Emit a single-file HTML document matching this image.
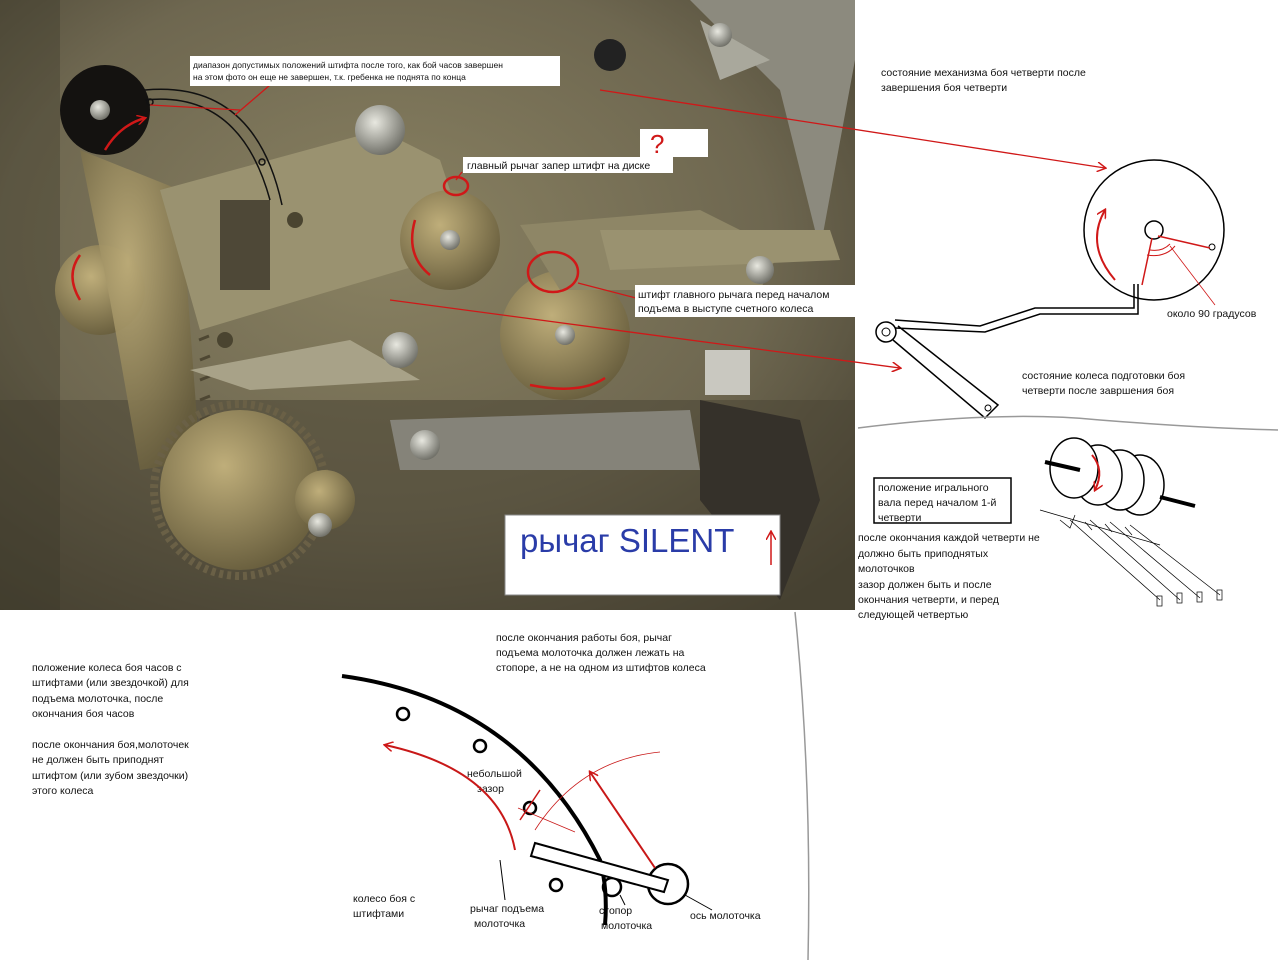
<!DOCTYPE html>
<html><head><meta charset="utf-8"><style>
html,body{margin:0;padding:0;background:#fff;width:1280px;height:960px;overflow:hidden}
svg{display:block}
text{font-family:"Liberation Sans","DejaVu Sans",sans-serif;fill:#111}
</style></head><body>
<svg width="1280" height="960" viewBox="0 0 1280 960" xmlns="http://www.w3.org/2000/svg">
<defs>
<radialGradient id="bg" cx="45%" cy="40%" r="75%">
<stop offset="0" stop-color="#8a8262"/><stop offset="0.6" stop-color="#6e6750"/><stop offset="1" stop-color="#423d2e"/></radialGradient>
<radialGradient id="brass" cx="40%" cy="35%" r="70%">
<stop offset="0" stop-color="#bfae7a"/><stop offset="1" stop-color="#665c3c"/></radialGradient>
<radialGradient id="steel" cx="40%" cy="35%" r="70%">
<stop offset="0" stop-color="#e8e8e0"/><stop offset="1" stop-color="#6a6a62"/></radialGradient>
<marker id="ar" markerWidth="10" markerHeight="10" refX="8" refY="5" orient="auto" markerUnits="userSpaceOnUse"><path d="M0,0 L9,5 L0,10" fill="none" stroke="#d01818" stroke-width="1.5"/></marker>
</defs>
<!-- photo -->
<rect x="0" y="0" width="855" height="610" fill="url(#bg)"/>
<rect x="0" y="400" width="855" height="210" fill="#4a4535" opacity="0.55"/>
<rect x="0" y="0" width="60" height="610" fill="#3a3628" opacity="0.35"/>
<polygon points="690,0 855,0 855,60 820,250 780,90" fill="#8c8a7e"/>
<polygon points="700,20 770,60 720,80" fill="#a9a89c"/>
<circle cx="105" cy="110" r="45" fill="#141210"/>
<circle cx="100" cy="290" r="45" fill="url(#brass)"/>
<path d="M80,150 L180,190 L200,460 L140,470 L110,300Z" fill="url(#brass)" opacity="0.9"/>
<g stroke="#4e4733" stroke-width="3">
<path d="M185,200 l10,-4 M188,220 l10,-4 M190,240 l10,-4 M192,260 l10,-4 M194,280 l10,-4 M196,300 l10,-4 M198,320 l10,-4 M199,340 l10,-4 M200,360 l10,-4 M200,380 l10,-4 M200,400 l10,-4 M200,420 l10,-4 M200,440 l10,-4"/>
</g>
<path d="M160,190 L380,130 L440,160 L470,250 L300,300 L200,330Z" fill="#9a9270"/>
<rect x="220" y="200" width="50" height="90" fill="#2e2a1f" opacity="0.7"/>
<circle cx="450" cy="240" r="50" fill="url(#brass)"/>
<circle cx="565" cy="335" r="65" fill="url(#brass)"/>
<path d="M520,225 L700,210 L780,250 L760,290 L560,290Z" fill="#8e8666"/>
<path d="M600,230 L830,230 L840,260 L610,270Z" fill="#9a9270"/>
<circle cx="760" cy="270" r="14" fill="url(#steel)"/>
<circle cx="240" cy="490" r="80" fill="url(#brass)"/>
<circle cx="240" cy="490" r="86" fill="none" stroke="#6a6046" stroke-width="8" stroke-dasharray="4 4"/>
<circle cx="325" cy="500" r="30" fill="url(#brass)"/>
<path d="M390,420 L690,410 L700,470 L400,470Z" fill="#858379"/>
<rect x="705" y="350" width="45" height="45" fill="#c9c8c0"/>
<path d="M700,400 L800,420 L820,500 L780,600 L700,500Z" fill="#35312a"/>
<path d="M190,370 L350,340 L420,380 L250,390Z" fill="#a8a288"/>
<circle cx="380" cy="130" r="25" fill="url(#steel)"/>
<circle cx="400" cy="350" r="18" fill="url(#steel)"/>
<circle cx="425" cy="445" r="15" fill="url(#steel)"/>
<circle cx="100" cy="110" r="10" fill="url(#steel)"/>
<circle cx="610" cy="55" r="16" fill="#222"/>
<circle cx="720" cy="35" r="12" fill="url(#steel)"/>
<circle cx="450" cy="240" r="10" fill="url(#steel)"/>
<circle cx="565" cy="335" r="10" fill="url(#steel)"/>
<circle cx="295" cy="220" r="8" fill="#4a4430"/>
<circle cx="225" cy="340" r="8" fill="#4a4430"/>
<circle cx="320" cy="525" r="12" fill="url(#steel)"/>
<!-- red annotations on photo -->
<g fill="none" stroke="#d01818" stroke-width="2.5">
<path d="M105,150 Q120,125 145,118" marker-end="url(#ar)"/>
<path d="M80,300 Q65,275 80,255"/>
<path d="M415,220 Q405,255 430,275"/>
<path d="M605,378 Q580,395 530,385"/>
<ellipse cx="553" cy="272" rx="25" ry="20"/>
<ellipse cx="456" cy="186" rx="12" ry="9"/>
</g>
<g fill="none" stroke="#111" stroke-width="1.5">
<path d="M145,100 Q240,90 270,200"/>
<path d="M145,90 Q255,80 282,205"/>
<circle cx="150" cy="102" r="3"/><circle cx="262" cy="162" r="3"/>
</g>
<g stroke="#d01818" stroke-width="1.3" fill="none">
<line x1="270" y1="85" x2="235" y2="115"/>
<line x1="240" y1="110" x2="150" y2="105"/>
<line x1="462" y1="172" x2="456" y2="180"/>
<line x1="578" y1="283" x2="636" y2="298"/>
<line x1="600" y1="90" x2="1105" y2="168" marker-end="url(#ar)"/>
<line x1="390" y1="300" x2="900" y2="368" marker-end="url(#ar)"/>
</g>
<!-- label boxes -->
<rect x="190" y="56" width="370" height="30" fill="#fff"/>
<text x="193" y="68" font-size="8.5">диапазон допустимых положений штифта после того, как бой часов завершен</text>
<text x="193" y="80" font-size="8.5">на этом фото он еще не завершен, т.к. гребенка не поднята по конца</text>
<rect x="640" y="129" width="68" height="28" fill="#fff"/>
<text x="650" y="153" font-size="26" style="fill:#d01818">?</text>
<rect x="463" y="157" width="210" height="16" fill="#fff"/>
<text x="467" y="169" font-size="10.5">главный рычаг запер штифт на диске</text>
<rect x="635" y="285" width="222" height="32" fill="#fff"/>
<text x="638" y="298" font-size="10.5">штифт главного рычага перед началом</text>
<text x="638" y="312" font-size="10.5">подъема в выступе счетного колеса</text>
<rect x="505" y="515" width="275" height="80" fill="#fff" stroke="#888"/>
<text x="520" y="552" font-size="33" style="fill:#2a3ca8">рычаг SILENT</text>
<line x1="771" y1="565" x2="771" y2="532" stroke="#d01818" stroke-width="1.5" marker-end="url(#ar)"/>
<!-- right upper diagram -->
<g transform="translate(0,3)">
<text x="881" y="73" font-size="10.5">состояние механизма боя четверти после</text>
<text x="881" y="88" font-size="10.5">завершения боя четверти</text>
<text x="1167" y="314" font-size="10.5">около 90 градусов</text>
<text x="1022" y="376" font-size="10.5">состояние колеса подготовки боя</text>
<text x="1022" y="391" font-size="10.5">четверти после завршения боя</text>
</g>
<circle cx="1154" cy="230" r="70" fill="none" stroke="#000" stroke-width="1.5"/>
<circle cx="1154" cy="230" r="9" fill="none" stroke="#000" stroke-width="1.5"/>
<circle cx="1212" cy="247" r="3" fill="none" stroke="#000"/>
<path d="M1115,280 Q1085,245 1105,210" fill="none" stroke="#d01818" stroke-width="2" marker-end="url(#ar)"/>
<line x1="1158" y1="236" x2="1210" y2="248" stroke="#d01818" stroke-width="1.5"/>
<line x1="1152" y1="238" x2="1142" y2="285" stroke="#d01818" stroke-width="1.5"/>
<path d="M1150,250 Q1162,252 1170,244" fill="none" stroke="#d01818"/>
<path d="M1147,255 Q1165,258 1175,246" fill="none" stroke="#d01818"/>
<line x1="1170" y1="246" x2="1215" y2="305" stroke="#d01818" stroke-width="0.8"/>
<path d="M1134,284 L1134,308 L1035,308 L980,326 L895,320 M1138,284 L1138,314 L1040,314 L985,332 L895,328" fill="none" stroke="#000" stroke-width="1.5"/>
<circle cx="886" cy="332" r="10" fill="none" stroke="#000" stroke-width="1.5"/>
<circle cx="886" cy="332" r="4" fill="none" stroke="#000"/>
<path d="M893,340 L985,418 L998,405 L898,326" fill="none" stroke="#000" stroke-width="1.5"/>
<circle cx="988" cy="408" r="3" fill="none" stroke="#000"/>
<path d="M858,428 Q1000,410 1100,420 Q1200,428 1278,430" fill="none" stroke="#999" stroke-width="1.5"/>
<path d="M795,612 Q812,780 808,960" fill="none" stroke="#999" stroke-width="1.5"/>
<!-- drum -->
<g fill="#fff" stroke="#000" stroke-width="1.5">
<ellipse cx="1140" cy="485" rx="24" ry="30"/>
<ellipse cx="1120" cy="480" rx="24" ry="30"/>
<ellipse cx="1098" cy="475" rx="24" ry="30"/>
<ellipse cx="1074" cy="468" rx="24" ry="30"/>
</g>
<line x1="1045" y1="462" x2="1080" y2="470" stroke="#000" stroke-width="4"/>
<line x1="1160" y1="497" x2="1195" y2="506" stroke="#000" stroke-width="4"/>
<path d="M1092,455 Q1105,470 1095,490" fill="none" stroke="#d01818" stroke-width="2" marker-end="url(#ar)"/>
<g stroke="#000" stroke-width="0.7" fill="none">
<path d="M1070,520 L1160,600 M1090,520 L1180,600 M1110,522 L1200,598 M1130,525 L1220,595"/>
<path d="M1060,520 L1070,528 L1075,515 M1085,522 L1092,530 M1105,524 L1112,532 M1125,527 L1132,535"/>
<line x1="1040" y1="510" x2="1160" y2="545"/>
<rect x="1157" y="596" width="5" height="10"/><rect x="1177" y="593" width="5" height="10"/><rect x="1197" y="592" width="5" height="10"/><rect x="1217" y="590" width="5" height="10"/>
</g>
<rect x="874" y="478" width="137" height="45" fill="#fff" stroke="#000" stroke-width="1.5"/>
<text x="878" y="491" font-size="10.5">положение игрального</text>
<text x="878" y="506" font-size="10.5">вала перед началом 1-й</text>
<text x="878" y="521" font-size="10.5">четверти</text>
<g font-size="10.5" transform="translate(0,1)">
<text x="858" y="540">после окончания каждой четверти не</text>
<text x="858" y="556">должно быть приподнятых</text>
<text x="858" y="571">молоточков</text>
<text x="858" y="587">зазор должен быть и после</text>
<text x="858" y="602">окончания четверти, и перед</text>
<text x="858" y="617">следующей четвертью</text>
</g>
<!-- bottom text -->
<g font-size="10.5" transform="translate(0,3)">
<text x="32" y="668">положение колеса боя часов с</text>
<text x="32" y="683">штифтами (или звездочкой) для</text>
<text x="32" y="699">подъема молоточка, после</text>
<text x="32" y="714">окончания боя часов</text>
<text x="32" y="745">после окончания боя,молоточек</text>
<text x="32" y="760">не должен быть приподнят</text>
<text x="32" y="776">штифтом (или зубом звездочки)</text>
<text x="32" y="791">этого колеса</text>
<text x="496" y="638">после окончания работы боя, рычаг</text>
<text x="496" y="653">подъема молоточка должен лежать на</text>
<text x="496" y="668">стопоре, а не на одном из штифтов колеса</text>
<text x="467" y="774">небольшой</text>
<text x="477" y="789">зазор</text>
<text x="353" y="899">колесо боя с</text>
<text x="353" y="914">штифтами</text>
<text x="470" y="909">рычаг подъема</text>
<text x="474" y="924">молоточка</text>
<text x="599" y="911">стопор</text>
<text x="601" y="926">молоточка</text>
<text x="690" y="916">ось молоточка</text>
</g>
<!-- bottom diagram -->
<path d="M342,676 Q520,700 600,860 Q608,890 605,925" fill="none" stroke="#000" stroke-width="4"/>
<g fill="none" stroke="#000" stroke-width="2.5">
<circle cx="403" cy="714" r="6"/><circle cx="480" cy="746" r="6"/>
<circle cx="530" cy="808" r="6"/><circle cx="556" cy="885" r="6"/>
<circle cx="612" cy="887" r="9"/>
<circle cx="668" cy="884" r="20"/>
</g>
<path d="M535,843 L668,880 L664,892 L531,856Z" fill="#fff" stroke="#000" stroke-width="2"/>
<path d="M515,850 Q500,770 385,745" fill="none" stroke="#c81818" stroke-width="2" marker-end="url(#ar)"/>
<line x1="655" y1="868" x2="590" y2="772" stroke="#c81818" stroke-width="2" marker-end="url(#ar)"/>
<path d="M535,830 Q580,760 660,752" fill="none" stroke="#c81818" stroke-width="0.8"/>
<line x1="520" y1="820" x2="540" y2="790" stroke="#c81818" stroke-width="1.5"/>
<line x1="518" y1="808" x2="575" y2="832" stroke="#c81818" stroke-width="0.7"/>
<line x1="500" y1="860" x2="505" y2="900" stroke="#000"/>
<line x1="620" y1="895" x2="625" y2="905" stroke="#000"/>
<line x1="685" y1="895" x2="712" y2="910" stroke="#000"/>
</svg>
</body></html>
